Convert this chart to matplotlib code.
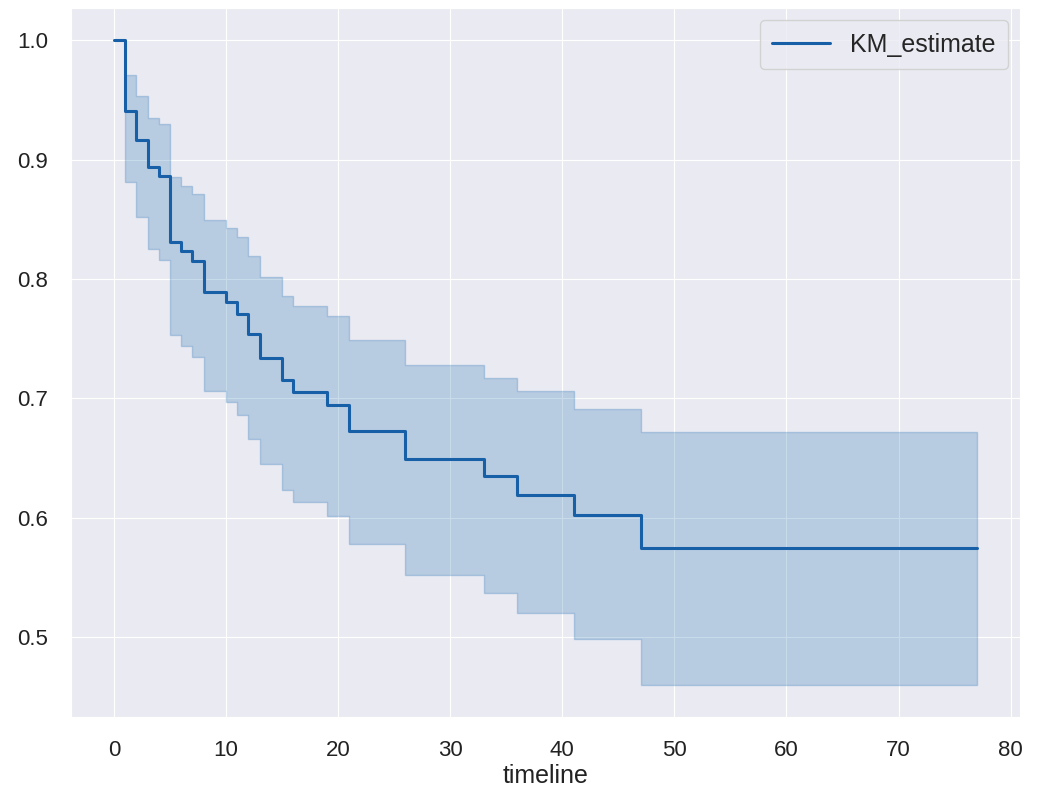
import matplotlib
matplotlib.use("Agg")
import matplotlib.pyplot as plt
import seaborn as sns

# Kaplan-Meier estimate
timeline = [0, 1, 2, 3, 4, 5, 6, 7, 8, 10, 11, 12, 13, 15, 16, 19, 21, 26, 33, 36, 41, 47, 77]
km_estimate = [1.0, 0.941, 0.916, 0.894, 0.886, 0.831, 0.823, 0.815, 0.789, 0.781, 0.771,
               0.754, 0.734, 0.715, 0.705, 0.694, 0.673, 0.649, 0.635, 0.619, 0.602, 0.575, 0.575]
ci_upper = [1.0, 0.971, 0.953, 0.935, 0.930, 0.885, 0.878, 0.871, 0.849, 0.843, 0.835,
            0.819, 0.802, 0.786, 0.777, 0.769, 0.749, 0.728, 0.717, 0.706, 0.691, 0.672, 0.672]
ci_lower = [1.0, 0.881, 0.852, 0.825, 0.816, 0.753, 0.744, 0.735, 0.706, 0.697, 0.686,
            0.666, 0.645, 0.623, 0.613, 0.601, 0.578, 0.552, 0.537, 0.520, 0.498, 0.460, 0.460]

sns.set_style("darkgrid")
plt.rcParams["font.family"] = ["Liberation Sans", "DejaVu Sans"]

line_color = "#1760a8"
fill_color = "#2272b2"

fig = plt.figure(figsize=(10.42, 7.88), dpi=100)
ax = fig.add_axes([0.068, 0.090, 0.911, 0.900])

ax.step(timeline, km_estimate, where="post", color=line_color, linewidth=2.2, label="KM_estimate")
ax.fill_between(timeline, ci_lower, ci_upper, step="post", color=fill_color, alpha=0.25, linewidth=1)

ax.set_xticks(range(0, 81, 10))
ax.set_yticks([0.5, 0.6, 0.7, 0.8, 0.9, 1.0])
ax.tick_params(labelsize=16, pad=13, labelcolor="#222222")
ax.set_xlabel("timeline", fontsize=18, labelpad=2, color="#222222")

ax.legend(loc="upper right", fontsize=18, handlelength=2.3, borderpad=0.5)

fig.savefig("out.png", dpi=100)
